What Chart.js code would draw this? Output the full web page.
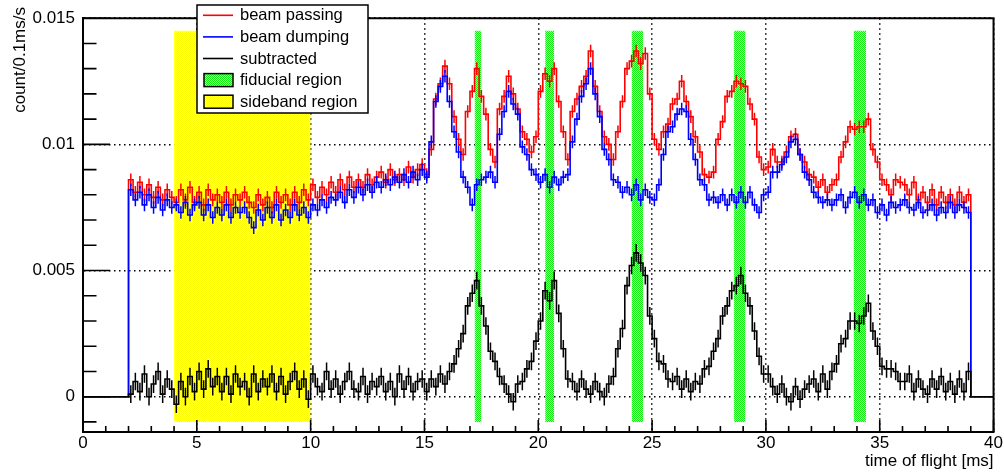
<!DOCTYPE html>
<html>
<head>
<meta charset="utf-8">
<title>time of flight</title>
<script src="https://cdn.jsdelivr.net/npm/chart.js@4.4.1/dist/chart.umd.min.js"></script>
<style>
  body { margin: 0; background: #fff; }
  #tof { display: block; }
</style>
</head>
<body>
<canvas id="tof" width="1004" height="473"></canvas>
<script>
'use strict';

// Binning of the time-of-flight histograms (ms)
const binStart = 2.0;
const binWidth = 0.2;

// Bin contents in units of 1e-4 count/0.1ms/s, one row per ms
const passing = [
  86, 81, 85, 80, 84,   // 2
  79, 83, 78, 82, 79,   // 3
  77, 82, 78, 83, 77,   // 4
  81, 76, 82, 78, 80,   // 5
  77, 81, 76, 80, 78,   // 6
  81, 77, 75, 80, 76,   // 7
  79, 75, 81, 77, 80,   // 8
  76, 81, 77, 82, 78,   // 9
  84, 79, 83, 80, 85,   // 10
  81, 86, 82, 87, 83,   // 11
  86, 83, 88, 84, 87,   // 12
  89, 85, 90, 86, 88,   // 13
  86, 91, 87, 90, 92,   // 14
  88, 98, 118, 124, 131,   // 15
  124, 111, 102, 96, 113,  // 16
  121, 130, 119, 112, 98,  // 17
  93, 114, 119, 127, 120,  // 18
  114, 105, 102, 97, 103,  // 19
  121, 128, 125, 130, 117, // 20
  105, 94, 113, 118, 123,  // 21
  127, 137, 123, 113, 103, // 22
  100, 94, 105, 117, 130,  // 23
  133, 137, 132, 136, 120, // 24
  102, 98, 105, 108, 116,  // 25
  118, 125, 117, 111, 103, // 26
  97, 88, 87, 89, 102,     // 27
  109, 119, 121, 125, 124, // 28
  123, 116, 110, 95, 90,   // 29
  91, 98, 93, 93, 97,      // 30
  103, 104, 96, 93, 88,    // 31
  87, 83, 86, 81, 84,      // 32
  86, 95, 101, 107, 106,   // 33
  107, 107, 110, 98, 93,   // 34
  86, 84, 80, 86, 85,      // 35
  84, 80, 85, 78, 81,      // 36
  77, 82, 76, 81, 77,      // 37
  80, 76, 81, 77, 80       // 38
];

const dumping = [
  82, 78, 81, 76, 80,   // 2
  75, 79, 74, 78, 75,   // 3
  76, 73, 77, 72, 76,   // 4
  77, 72, 76, 71, 75,   // 5
  72, 76, 71, 75, 73,   // 6
  75, 71, 67, 74, 70,   // 7
  75, 71, 76, 70, 74,   // 8
  71, 76, 72, 75, 71,   // 9
  76, 74, 78, 75, 79,   // 10
  78, 81, 77, 82, 79,   // 11
  83, 80, 84, 81, 85,   // 12
  83, 86, 84, 87, 85,   // 13
  88, 85, 89, 86, 90,   // 14
  87, 101, 117, 123, 127,  // 15
  117, 105, 97, 87, 83,    // 16
  76, 84, 86, 87, 89,      // 17
  85, 104, 113, 121, 116,  // 18
  112, 99, 96, 90, 88,     // 19
  85, 88, 83, 87, 84,      // 20
  87, 88, 101, 110, 119,   // 21
  124, 130, 120, 111, 98,  // 22
  94, 86, 85, 81, 83,      // 23
  80, 84, 78, 82, 79,      // 24
  78, 84, 96, 105, 107,    // 25
  112, 114, 113, 102, 94,  // 26
  86, 84, 78, 79, 77,      // 27
  80, 76, 80, 77, 81,      // 28
  77, 81, 76, 73, 80,      // 29
  81, 89, 89, 92, 95,      // 30
  101, 102, 96, 89, 86,    // 31
  81, 79, 77, 78, 76,      // 32
  78, 80, 75, 79, 81,      // 33
  77, 80, 76, 78, 73,      // 34
  76, 72, 77, 75, 76,      // 35
  78, 75, 74, 77, 73,      // 36
  74, 76, 72, 75, 73,      // 37
  77, 73, 76, 75, 73       // 38
];

const subtracted = [
  1, 6, 2, 9, 0,      // 2
  5, 10, 1, 7, 3,     // 3
  -3, 6, 0, 8, 2,     // 4
  10, 3, 11, 4, 8,    // 5
  2, 8, 1, 9, 4,      // 6
  6, 0, 9, 2, 7,      // 7
  4, 9, 2, 8, 1,      // 8
  6, 10, 3, 7, -1,    // 9
  9, 4, 2, 10, 3,     // 10
  7, 1, 6, 10, 3,     // 11
  2, 8, 1, 6, 4,      // 12
  8, 2, 6, 0, 9,      // 13
  3, 8, 2, 6, 7,      // 14
  2, 7, 4, 9, 5,      // 15
  10, 13, 19, 25, 36, // 16
  41, 46, 36, 28, 18, // 17
  14, 8, 5, 1, -2,    // 18
  5, 6, 11, 14, 22,   // 19
  30, 42, 38, 46, 33, // 20
  19, 7, 6, 2, 7,     // 21
  3, 1, 6, 2, 0,      // 22
  5, 8, 19, 27, 44,   // 23
  52, 57, 53, 48, 32, // 24
  23, 14, 13, 7, 6,   // 25
  8, 3, 7, 2, 6,      // 26
  5, 11, 12, 18, 23,  // 27
  32, 36, 42, 44, 48, // 28
  41, 36, 26, 16, 9,  // 29
  9, 4, 1, 5, 0,      // 30
  -2, 4, -1, 3, 5,    // 31
  7, 2, 9, 3, 10,     // 32
  13, 21, 23, 30, 30, // 33
  29, 32, 37, 26, 20, // 34
  12, 11, 11, 10, 6,  // 35
  6, 9, 2, 7, 3,      // 36
  1, 7, 3, 8, 2,      // 37
  6, 1, 7, 2, 10      // 38
];

// Half length of the error bars, same units
const passingErr = 2.5;
const dumpingErr = 2.5;
const subtractedErr = 3.5;

// Shaded time windows (ms)
const fiducialRegions = [[17.2, 17.5], [20.3, 20.7], [24.1, 24.6], [28.6, 29.1], [33.85, 34.4]];
const sidebandRegion = [4, 10];
const regionTop = 0.0145;
const regionBottom = -0.001;

// Axes
const xTicks = [0, 5, 10, 15, 20, 25, 30, 35, 40];
const yTicks = [0, 0.005, 0.01, 0.015];
const yTickLabels = ['0', '0.005', '0.01', '0.015'];

const FONT = "'Liberation Sans', Arial, Helvetica, sans-serif";

let canvas = document.getElementById('tof');
let ctx = canvas.getContext('2d');

// two-tone checkered fill, like the ROOT fill pattern
function makePattern(dark, light) {
  let tile = document.createElement('canvas');
  tile.width = 2;
  tile.height = 2;
  let tctx = tile.getContext('2d');
  let img = tctx.createImageData(2, 2);
  for (let i = 0; i < 4; i++) {
    let col = (i === 0 || i === 3) ? dark : light;
    img.data[i * 4] = col[0];
    img.data[i * 4 + 1] = col[1];
    img.data[i * 4 + 2] = col[2];
    img.data[i * 4 + 3] = 255;
  }
  tctx.putImageData(img, 0, 0);
  return ctx.createPattern(tile, 'repeat');
}

let greenFill = makePattern([20, 240, 20], [165, 255, 165]);
let yellowFill = makePattern([255, 255, 0], [255, 255, 160]);

// turn bin contents into step points (left bin edges), zero outside the range
function histPoints(values) {
  let pts = [{x: 0, y: 0}];
  for (let i = 0; i < values.length; i++) {
    pts.push({x: binStart + i * binWidth, y: values[i] * 1e-4});
  }
  pts.push({x: binStart + values.length * binWidth, y: 0});
  pts.push({x: 40, y: 0});
  return pts;
}

function histDataset(label, values, err, color, order) {
  return {
    label: label,
    data: histPoints(values),
    values: values,
    err: err,
    borderColor: color,
    borderWidth: 1.6,
    stepped: 'before',
    pointRadius: 0,
    fill: false,
    order: order
  };
}

function regionDataset(label, edges, pattern) {
  return {
    label: label,
    data: [{x: edges[0], y: regionTop}, {x: edges[1], y: regionTop}],
    borderColor: 'rgba(0,0,0,0)',
    borderWidth: 0,
    backgroundColor: pattern,
    fill: {value: regionBottom},
    pointRadius: 0,
    order: 10
  };
}

let datasets = [
  histDataset('beam passing', passing, passingErr, '#ff0000', 3),
  histDataset('beam dumping', dumping, dumpingErr, '#0000ff', 2),
  histDataset('subtracted', subtracted, subtractedErr, '#000000', 1),
  regionDataset('sideband region', sidebandRegion, yellowFill)
];
for (let i = 0; i < fiducialRegions.length; i++) {
  datasets.push(regionDataset('fiducial region', fiducialRegions[i], greenFill));
}

// legend rows: [label, kind, colour or fill]
const legendRows = [
  ['beam passing', 'line', '#ff0000'],
  ['beam dumping', 'line', '#0000ff'],
  ['subtracted', 'line', '#000000'],
  ['fiducial region', 'box', greenFill],
  ['sideband region', 'box', yellowFill]
];

// vertical error bars at the bin centres, drawn right after each histogram
let errorBars = {
  id: 'errorBars',
  afterDatasetDraw(chart, args) {
    let ds = chart.data.datasets[args.index];
    if (!ds.values) return;
    let c = chart.ctx;
    let xs = chart.scales.x;
    let ys = chart.scales.y;
    c.save();
    c.strokeStyle = ds.borderColor;
    c.lineWidth = 1.5;
    c.beginPath();
    for (let i = 0; i < ds.values.length; i++) {
      let px = xs.getPixelForValue(binStart + (i + 0.5) * binWidth);
      c.moveTo(px, ys.getPixelForValue((ds.values[i] + ds.err) * 1e-4));
      c.lineTo(px, ys.getPixelForValue((ds.values[i] - ds.err) * 1e-4));
    }
    c.stroke();
    c.restore();
  }
};

// frame, inward ticks, y title and legend box
let framePlugin = {
  id: 'frame',
  afterDatasetsDraw(chart) {
    let c = chart.ctx;
    let area = chart.chartArea;
    let xs = chart.scales.x;
    let ys = chart.scales.y;
    c.save();
    c.strokeStyle = '#000';
    c.lineWidth = 2;
    c.beginPath();
    c.moveTo(area.left, area.top);
    c.lineTo(area.right, area.top);
    c.lineTo(area.right, area.bottom);
    c.stroke();

    c.lineWidth = 1.6;
    c.beginPath();
    for (let k = -1; k <= 15; k++) {
      let py = ys.getPixelForValue(k * 0.001);
      let len = (k % 5 === 0) ? 27 : 13.5;
      c.moveTo(area.left, py);
      c.lineTo(area.left + len, py);
    }
    for (let k = 0; k <= 40; k++) {
      let px = xs.getPixelForValue(k);
      let len = (k % 5 === 0) ? 12 : 6;
      c.moveTo(px, area.bottom);
      c.lineTo(px, area.bottom - len);
    }
    c.stroke();
    c.restore();
  },
  afterDraw(chart) {
    let c = chart.ctx;
    c.save();
    // y axis title, right aligned to the top
    c.fillStyle = '#000';
    c.font = '17px ' + FONT;
    c.translate(25, 7);
    c.rotate(-Math.PI / 2);
    c.textAlign = 'right';
    c.textBaseline = 'alphabetic';
    c.fillText('count/0.1ms/s', 0, 0);
    c.restore();

    // legend
    c.save();
    let bx = 197, by = 5, bw = 171, bh = 108;
    c.fillStyle = '#fff';
    c.fillRect(bx, by, bw, bh);
    c.strokeStyle = '#000';
    c.lineWidth = 1.5;
    c.strokeRect(bx, by, bw, bh);
    c.font = '16.5px ' + FONT;
    c.textBaseline = 'middle';
    c.textAlign = 'left';
    for (let i = 0; i < legendRows.length; i++) {
      let row = legendRows[i];
      let ry = 15.3 + i * 21.6;
      if (row[1] === 'line') {
        c.strokeStyle = row[2];
        c.lineWidth = 1.6;
        c.beginPath();
        c.moveTo(203, ry);
        c.lineTo(233, ry);
        c.stroke();
      } else {
        c.fillStyle = row[2];
        c.fillRect(204, ry - 6.5, 29, 13);
        c.strokeStyle = '#000';
        c.lineWidth = 1.5;
        c.strokeRect(204, ry - 6.5, 29, 13);
      }
      c.fillStyle = '#000';
      c.fillText(row[0], 240, ry + 0.5);
    }
    c.restore();
  }
};

new Chart(canvas, {
  type: 'line',
  data: { datasets: datasets },
  options: {
    responsive: false,
    animation: false,
    devicePixelRatio: 1,
    layout: { padding: {left: 0, top: 14, right: 7, bottom: 0} },
    plugins: {
      legend: { display: false },
      tooltip: { enabled: false }
    },
    elements: { line: { tension: 0 } },
    scales: {
      x: {
        type: 'linear',
        min: 0,
        max: 40,
        afterBuildTicks: s => { s.ticks = xTicks.map(v => ({value: v})); },
        afterFit: s => { s.height = 41; },
        ticks: {
          color: '#000',
          font: { family: FONT, size: 17 },
          padding: 1,
          maxRotation: 0,
          autoSkip: false,
          callback: v => String(v)
        },
        grid: { color: '#000', lineWidth: 1.5, drawTicks: false },
        border: { display: true, color: '#000', width: 2, dash: [1.5, 3.5] },
        title: {
          display: true,
          text: 'time of flight [ms]',
          align: 'end',
          color: '#000',
          font: { family: FONT, size: 17 },
          padding: { top: 0, bottom: 1 }
        }
      },
      y: {
        type: 'linear',
        min: -0.0014,
        max: 0.015,
        afterBuildTicks: s => { s.ticks = yTicks.map(v => ({value: v})); },
        afterFit: s => { s.width = 83; },
        ticks: {
          color: '#000',
          font: { family: FONT, size: 17 },
          padding: 8,
          autoSkip: false,
          callback: v => yTickLabels[yTicks.indexOf(v)]
        },
        grid: { color: '#000', lineWidth: 1.5, drawTicks: false },
        border: { display: true, color: '#000', width: 2, dash: [1.5, 3.5] }
      }
    }
  },
  plugins: [errorBars, framePlugin]
});
</script>
</body>
</html>
